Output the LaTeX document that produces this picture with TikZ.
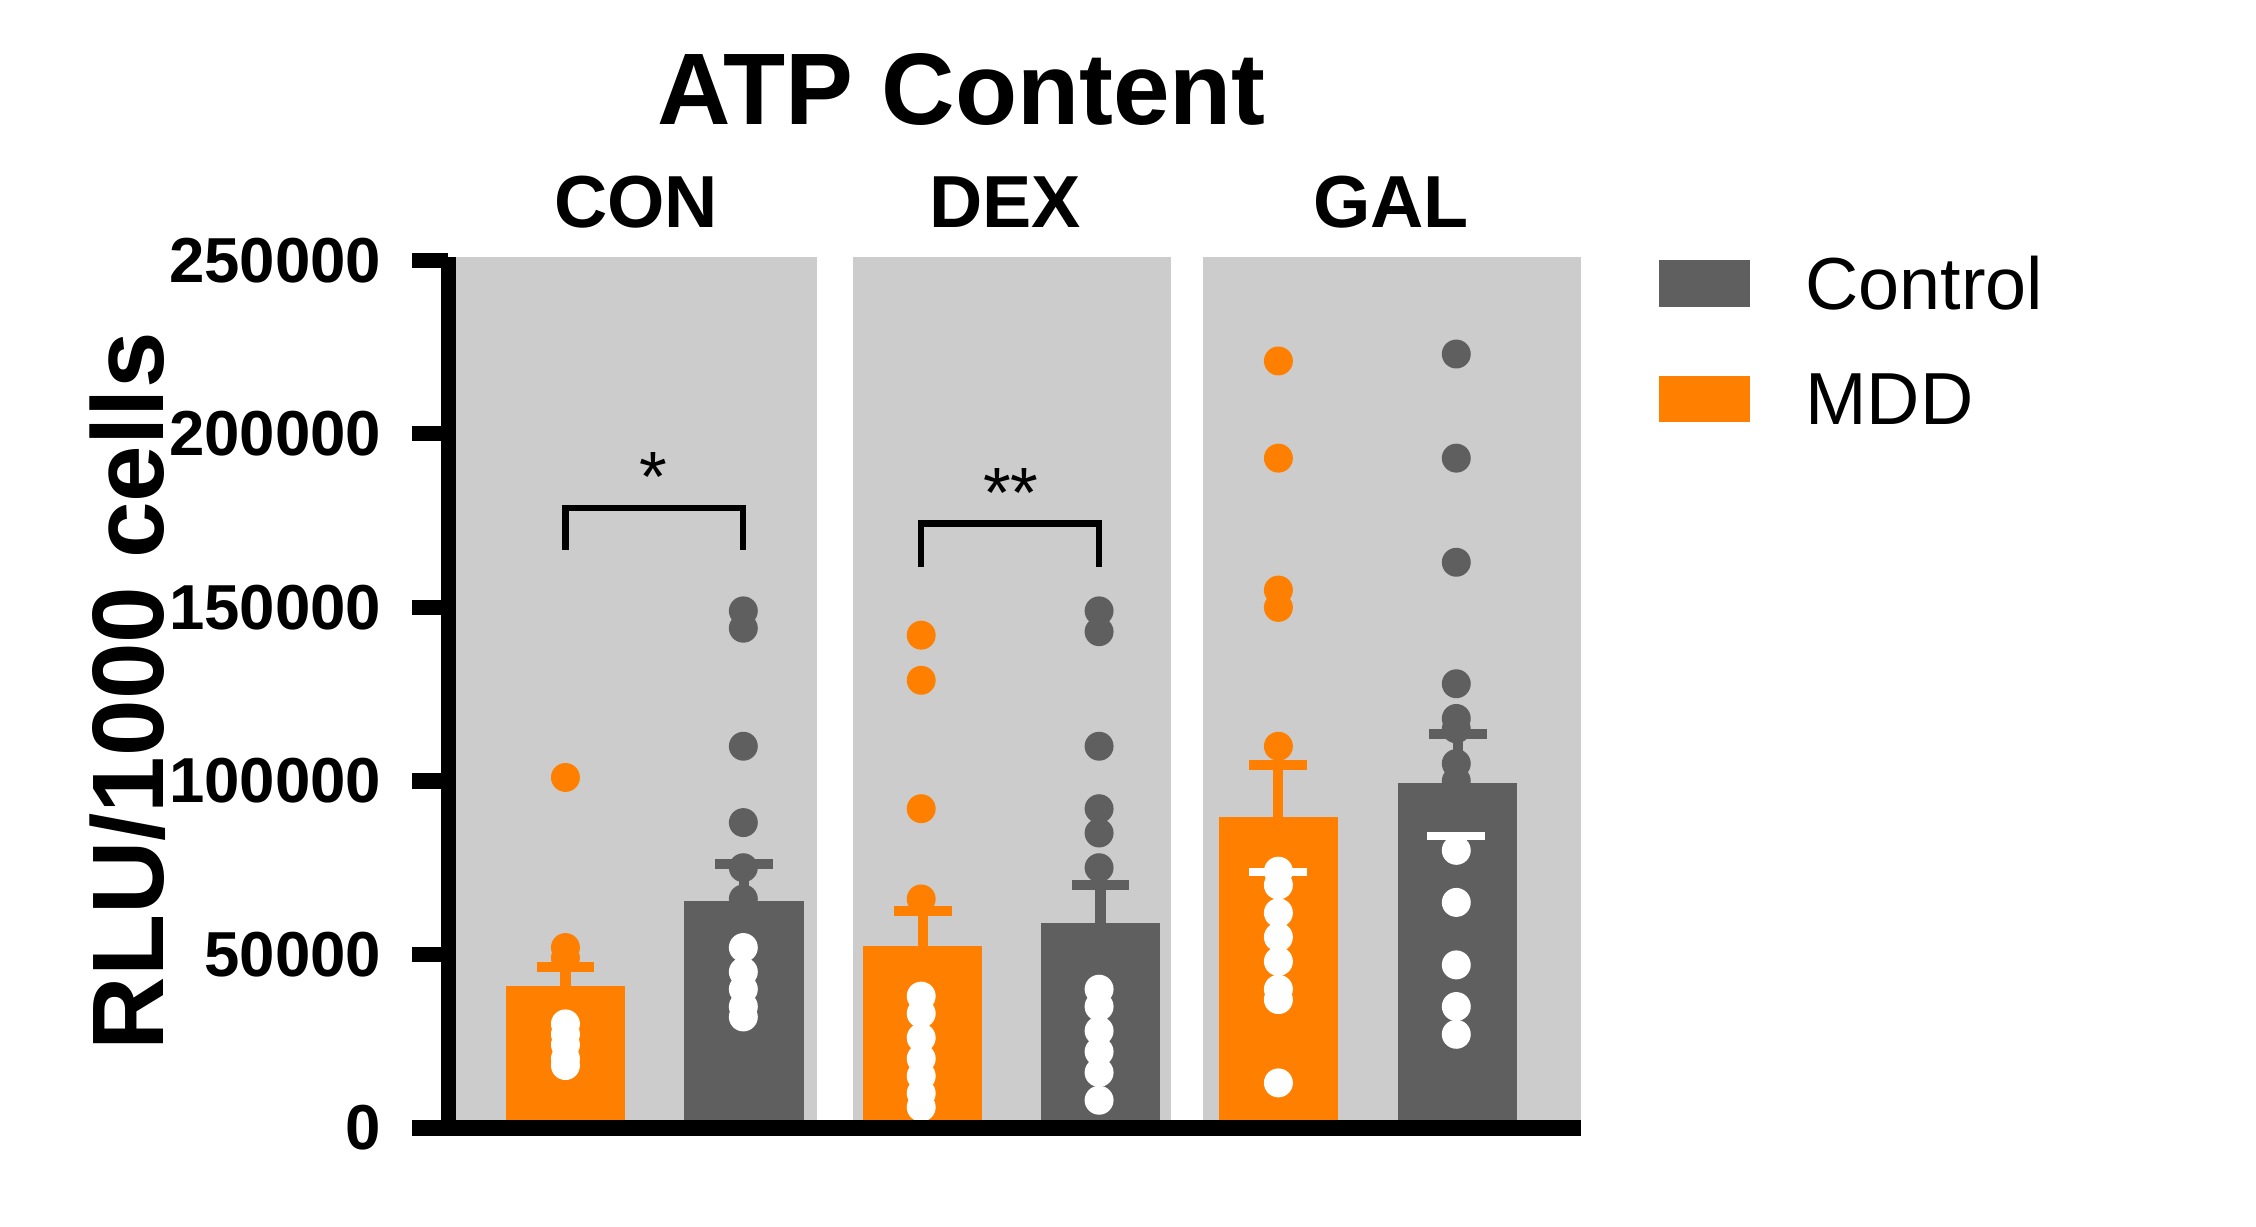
\documentclass[tikz,border=0pt]{standalone}
\usepackage{fontspec}
\setmainfont{Liberation Sans}
\begin{document}
\definecolor{org}{HTML}{FF8000}
\definecolor{dk}{HTML}{5F5F5F}
\definecolor{pan}{HTML}{CCCCCC}
\begin{tikzpicture}[x=0.01cm,y=-0.01cm,
  dot/.style={circle,fill=#1,inner sep=0,minimum size=0.2cm},
  tick/.style={anchor=east,font=\fontsize{12.5}{14}\selectfont\bfseries},
  grp/.style={font=\fontsize{14.5}{17}\selectfont\bfseries},
  leg/.style={anchor=west,font=\fontsize{14.5}{17}\selectfont}]
\useasboundingbox (0,0) rectangle (1560,848);
\newcommand{\Y}[1]{780-#1*2.4}
% panels
\fill[pan] (313,178) rectangle (565,780);
\fill[pan] (590,178) rectangle (810,780);
\fill[pan] (832,178) rectangle (1093,780);
% bars (values in thousands)
\foreach \xl/\xr/\v/\c/\e/\nm in {350/432/41/org/46.5/b1,473/556/65.5/dk/76/b2,597/679/52.5/org/62.5/b3,720/802/59/dk/70/b4,843/925/89.5/org/104.5/b5,967/1049/99.5/dk/113.5/b6}{
  \fill[\c] (\xl,{\Y{\v}}) rectangle (\xr,780);
  \coordinate (\nm t) at ({(\xl+\xr)/2},{\Y{\v}});
  \coordinate (\nm e) at ({(\xl+\xr)/2},{\Y{\e}});
  \draw[\c,line width=2pt] (\nm t) -- (\nm e);
  \draw[\c,line width=2pt] ([xshift=-0.2cm]\nm e) -- ([xshift=0.2cm]\nm e);
}
% dots
\newcommand{\mydots}[4]{\foreach \v in {#3}{\ifdim\v pt>#4pt\def\col{#2}\else\def\col{white}\fi\node[dot=\col] at (#1,{\Y{\v}}) {};}}
\mydots{391}{org}{101,52,49,30,27,24,20,18}{41}
\mydots{514}{dk}{149,144,110,88,75,66,52,45,40,35,32}{65.5}
\mydots{637}{org}{142,129,92,66,38,33,26,20,15,10,6}{52.5}
\mydots{760}{dk}{149,143,110,92,85,75,40,35,28,22,16,8}{59}
\mydots{884}{org}{221,193,155,150,110,74,70,62,55,48,40,37,13}{89.5}
\mydots{1007}{dk}{223,193,163,128,118,115,105,100,80,65,47,35,27}{99.5}
% white mean lines inside bars
\draw[white,line width=1.5pt] (864,603) -- (904,603);
\draw[white,line width=1.5pt] (987,578) -- (1027,578);
% axes
\draw[line width=3pt] (310,178) -- (310,782);
\draw[line width=3pt] (285,780) -- (1093,780);
\foreach \v/\t in {0/0,50/50000,100/100000,150/150000,200/200000,250/250000}{
  \draw[line width=3pt] (285,{\Y{\v}}) -- (310,{\Y{\v}});
  \node[tick] (t\v) at (276,{\Y{\v}}) {\t};
}
% significance
\draw[line width=1.2pt] (391,380) -- (391,351) -- (514,351) -- (514,380);
\node[font=\fontsize{14}{16}\selectfont] (s1) at (452,330) {*};
\draw[line width=1.2pt] (637,392) -- (637,362) -- (760,362) -- (760,392);
\node[font=\fontsize{14}{16}\selectfont] (s2) at (699,341) {**};
% labels
\node[font=\fontsize{20}{24}\selectfont\bfseries] (title) at (665,62) {ATP Content};
\node[grp] (g1) at (440,140) {CON};
\node[grp] (g2) at (695,140) {DEX};
\node[grp] (g3) at (962,140) {GAL};
\node[rotate=90,font=\fontsize{20}{24}\selectfont\bfseries] (yl) at (88,478) {RLU/1000 cells};
% legend
\fill[dk] (1147,180) rectangle (1210,212);
\fill[org] (1147,260) rectangle (1210,292);
\node[leg] (l1) at (1236,196) {Control};
\node[leg] (l2) at (1236,276) {MDD};
\end{tikzpicture}
\end{document}
